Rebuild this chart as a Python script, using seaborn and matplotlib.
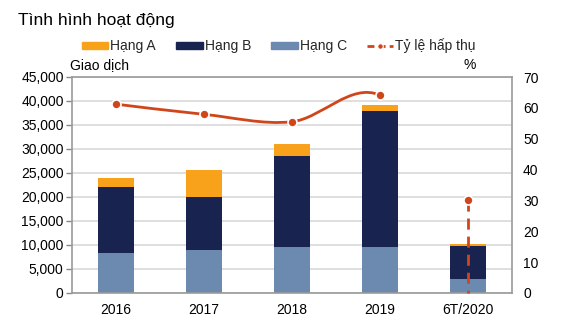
import numpy as np
import pandas as pd
import seaborn as sns
import matplotlib.pyplot as plt
from matplotlib.path import Path
from matplotlib.patches import PathPatch, Patch
from matplotlib.lines import Line2D

categories = ["2016", "2017", "2018", "2019", "6T/2020"]
hang_a = [1900, 5600, 2500, 1100, 400]
hang_b = [13700, 11000, 19000, 28400, 6900]
hang_c = [8300, 9000, 9500, 9600, 2900]
ty_le = [61.2, 57.9, 55.5, 64.1, 30.1]

sns.set_theme(style="white")
plt.rcParams['font.family'] = ['Liberation Sans', 'DejaVu Sans']

C_A = "#F8A11B"
C_B = "#18234F"
C_C = "#6C89B0"
C_L = "#D0461A"

df = pd.DataFrame({"cat": categories, "A": hang_a, "B": hang_b, "C": hang_c})
df["BC"] = df["B"] + df["C"]
df["ABC"] = df["A"] + df["BC"]

fig = plt.figure(figsize=(5.63, 3.28), dpi=100)
ax = fig.add_axes([72/563, 35/328, 440/563, 216/328])

w = 0.405
sns.barplot(data=df, x="cat", y="ABC", color=C_A, width=w, ax=ax, saturation=1, zorder=2)
sns.barplot(data=df, x="cat", y="BC", color=C_B, width=w, ax=ax, saturation=1, zorder=2)
sns.barplot(data=df, x="cat", y="C", color=C_C, width=w, ax=ax, saturation=1, zorder=2)
for p in ax.patches:
    p.set_edgecolor("none")

ax.set_xlim(-0.5, 4.5)
ax.set_ylim(0, 45000)
ax.set_yticks(np.arange(0, 45001, 5000))
ax.set_yticklabels([f"{v:,}" for v in range(0, 45001, 5000)], fontsize=10, color="black")
ax.set_xticks(range(5))
ax.set_xticklabels(categories, fontsize=10, color="black")
ax.set_xticks(np.arange(-0.5, 5, 1), minor=True)
ax.tick_params(axis="x", which="major", length=0, pad=7)
ax.tick_params(axis="x", which="minor", length=5, width=1, color="#888888", direction="out")
ax.tick_params(axis="y", which="major", length=4, width=1, color="#888888", direction="out", pad=2)
ax.set_xlabel("")
ax.set_ylabel("")
ax.grid(axis="y", color="#D9D9D9", linewidth=1.2, zorder=0)
ax.set_axisbelow(True)
for s in ax.spines.values():
    s.set_color("#9A9A9A")
    s.set_linewidth(1.2)

ax2 = ax.twinx()
ax2.set_ylim(0, 70)
ax2.set_yticks(np.arange(0, 71, 10))
ax2.tick_params(axis="y", length=0, labelsize=10, pad=8, labelcolor="black")
for s in ax2.spines.values():
    s.set_visible(False)
ax2.grid(False)

# Excel-style smoothed line (Bezier), segment to last point hidden
xs = np.arange(len(ty_le), dtype=float)
P = np.column_stack([xs, ty_le])
n = len(P)
verts = [tuple(P[0])]
codes = [Path.MOVETO]
for i in range(n - 2):
    pm = P[i - 1] if i > 0 else P[i]
    pn2 = P[i + 2] if i + 2 < n else P[i + 1]
    c1 = P[i] + (P[i + 1] - pm) / 6
    c2 = P[i + 1] - (pn2 - P[i]) / 6
    verts += [tuple(c1), tuple(c2), tuple(P[i + 1])]
    codes += [Path.CURVE4] * 3
ax2.add_patch(PathPatch(Path(verts, codes), facecolor="none", edgecolor=C_L, lw=2.0, zorder=3))
ax2.plot(xs[:4], ty_le[:4], linestyle="none", marker="o", ms=6.5, color=C_L,
         markeredgecolor="white", markeredgewidth=1.2, zorder=4)
ax2.plot([xs[4], xs[4]], [ty_le[4], 0], linestyle=(0, (4, 2.5)), color=C_L, lw=2.0,
         zorder=3, clip_on=False)
ax2.plot([xs[4]], [ty_le[4]], linestyle="none", marker="o", ms=6.5, color=C_L,
         markeredgecolor="white", markeredgewidth=1.2, zorder=4)

fig.text(18/563, 1 - 20/328, "Tình hình hoạt động", fontsize=12.5, va="center", ha="left", color="black")
fig.text(70/563, 1 - 65/328, "Giao dịch", fontsize=10, va="center", ha="left", color="black")
fig.text(463/563, 1 - 65/328, "%", fontsize=10, va="center", ha="left", color="black")

handles = [Patch(color=C_A, label="Hạng A"), Patch(color=C_B, label="Hạng B"),
           Patch(color=C_C, label="Hạng C"),
           Line2D([0], [0], color=C_L, lw=2.0, linestyle=(0, (2.5, 1.5)), marker="o", ms=4,
                  markeredgecolor="white", markeredgewidth=0.8, label="Tỷ lệ hấp thụ")]
fig.legend(handles=handles, loc="center left", bbox_to_anchor=(82/563, 1 - 46/328), ncol=4,
           frameon=False, fontsize=10, handlelength=1.9, handleheight=0.4, handletextpad=0.15,
           columnspacing=1.45, borderaxespad=0, borderpad=0)

fig.savefig("out.png", dpi=100)
